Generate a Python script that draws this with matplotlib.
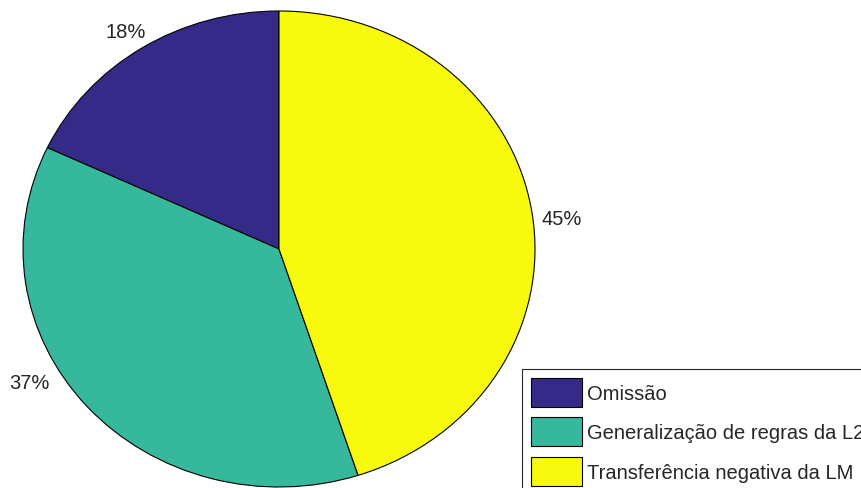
import matplotlib.pyplot as plt

# error categories and their share of the total
categories = ['Omissão', 'Generalização de regras da L2', 'Transferência negativa da LM']
shares = [18, 37, 45]
colors = ['#352a87', '#36b89d', '#f8fa0d']
# where each percentage text sits, in pie units (radius = 1)
label_xy = [(-0.60, 0.915), (-0.975, -0.56), (1.105, 0.13)]

plt.rcParams['font.family'] = ['Liberation Sans', 'DejaVu Sans']

fig = plt.figure(figsize=(8.62, 4.89), dpi=100)
ax = fig.add_axes([0, 0, 1, 1])

wedges, _ = ax.pie(shares, colors=colors, startangle=90, counterclock=True,
                   wedgeprops=dict(edgecolor='black', linewidth=0.8))

# pie is drawn slightly wider than tall
ax.set_aspect('auto')
ax.set_xlim(-279 / 256, (862 - 279) / 256)
ax.set_ylim(-(489 - 250) / 238, 250 / 238)
ax.axis('off')

for (x, y), s in zip(label_xy, shares):
    ax.text(x, y, f'{s}%', ha='center', va='center', fontsize=14.5, color='#262626')

leg = ax.legend(wedges, categories, loc='upper left',
                bbox_to_anchor=(522 / 862, 1 - 370 / 489), bbox_transform=fig.transFigure,
                borderaxespad=0, fontsize=14.5, fancybox=False, framealpha=1,
                handlelength=2.55, handleheight=1.85, labelspacing=0.5,
                handletextpad=0.25, borderpad=0.45)
leg.get_frame().set_edgecolor('#262626')
leg.get_frame().set_linewidth(0.8)
for t in leg.get_texts():
    t.set_color('#262626')

fig.savefig('out.png', dpi=100)
